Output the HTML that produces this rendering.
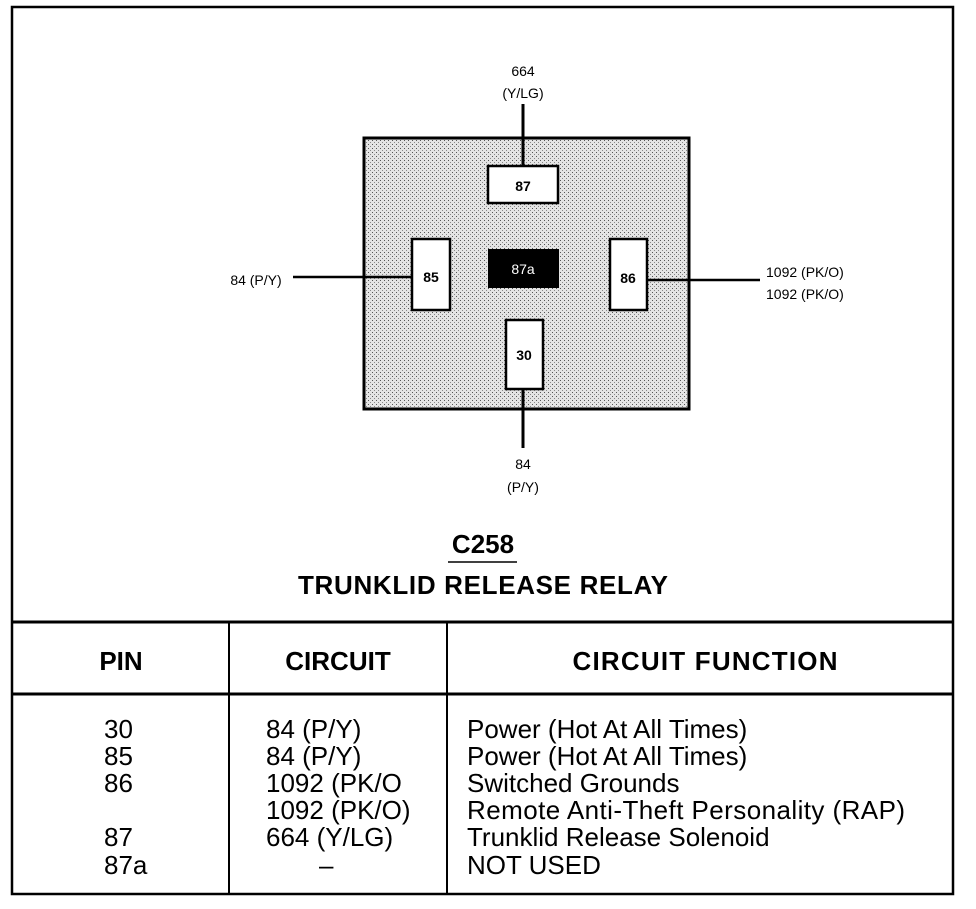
<!DOCTYPE html>
<html><head><style>
body{margin:0;background:#fff;}
svg text{font-family:"Liberation Sans",Arial,sans-serif;fill:#000;}
</style></head><body>
<svg width="976" height="904" viewBox="0 0 976 904" xmlns="http://www.w3.org/2000/svg">
<defs>
<pattern id="st" width="4" height="4" patternUnits="userSpaceOnUse">
<rect width="4" height="4" fill="#e4e4e4"/>
<rect x="0" y="0" width="1" height="1" fill="#555"/>
<rect x="2" y="2" width="1" height="1" fill="#888"/>
</pattern>
</defs>
<rect x="12" y="7" width="941" height="887" fill="none" stroke="#000" stroke-width="2.5"/>
<rect x="364" y="138" width="325" height="271" fill="url(#st)" stroke="#000" stroke-width="3"/>
<line x1="523" y1="104" x2="523" y2="165" stroke="#000" stroke-width="3"/>
<line x1="293" y1="277" x2="411" y2="277" stroke="#000" stroke-width="2.5"/>
<line x1="647" y1="280" x2="760" y2="280" stroke="#000" stroke-width="2.5"/>
<line x1="523" y1="389" x2="523" y2="448" stroke="#000" stroke-width="3"/>
<rect x="488" y="166" width="70" height="37" fill="#fff" stroke="#000" stroke-width="2.5"/>
<rect x="412" y="239" width="38" height="71" fill="#fff" stroke="#000" stroke-width="2.5"/>
<rect x="488" y="249" width="71" height="39" fill="#000"/>
<rect x="610" y="239" width="37" height="71" fill="#fff" stroke="#000" stroke-width="2.5"/>
<rect x="506" y="320" width="37" height="69" fill="#fff" stroke="#000" stroke-width="2.5"/>
<g font-size="14" font-weight="bold" text-anchor="middle">
<text x="523" y="191">87</text>
<text x="431" y="282">85</text>
<text x="628" y="283">86</text>
<text x="524" y="360">30</text>
</g>
<text x="523" y="274" font-size="14" text-anchor="middle" style="fill:#fff">87a</text>
<g font-size="14" text-anchor="middle">
<text x="523" y="76">664</text>
<text x="523" y="98">(Y/LG)</text>
<text x="523" y="469">84</text>
<text x="523" y="492">(P/Y)</text>
<text x="256" y="285">84 (P/Y)</text>
</g>
<g font-size="14">
<text x="766" y="277">1092 (PK/O)</text>
<text x="766" y="299">1092 (PK/O)</text>
</g>
<text x="483" y="553" font-size="26" font-weight="bold" text-anchor="middle">C258</text>
<line x1="448" y1="562" x2="517" y2="562" stroke="#000" stroke-width="1.5"/>
<text x="483" y="594" font-size="26" font-weight="bold" text-anchor="middle" textLength="370">TRUNKLID RELEASE RELAY</text>
<line x1="12" y1="622" x2="953" y2="622" stroke="#000" stroke-width="3"/>
<line x1="12" y1="694" x2="953" y2="694" stroke="#000" stroke-width="3"/>
<line x1="229" y1="622" x2="229" y2="894" stroke="#000" stroke-width="2"/>
<line x1="447" y1="622" x2="447" y2="894" stroke="#000" stroke-width="2"/>
<g font-size="26" font-weight="bold" text-anchor="middle">
<text x="121" y="670">PIN</text>
<text x="338" y="670">CIRCUIT</text>
<text x="705" y="670" textLength="265">CIRCUIT FUNCTION</text>
</g>
<g font-size="26">
<text x="104" y="738">30</text>
<text x="104" y="765">85</text>
<text x="104" y="792">86</text>
<text x="104" y="846">87</text>
<text x="104" y="874">87a</text>
<text x="266" y="738">84 (P/Y)</text>
<text x="266" y="765">84 (P/Y)</text>
<text x="266" y="792">1092 (PK/O</text>
<text x="266" y="819">1092 (PK/O)</text>
<text x="266" y="846">664 (Y/LG)</text>
<text x="319" y="874">–</text>
<text x="467" y="738">Power (Hot At All Times)</text>
<text x="467" y="765">Power (Hot At All Times)</text>
<text x="467" y="792">Switched Grounds</text>
<text x="467" y="819" textLength="438">Remote Anti-Theft Personality (RAP)</text>
<text x="467" y="846">Trunklid Release Solenoid</text>
<text x="467" y="874">NOT USED</text>
</g>
</svg>
</body></html>
